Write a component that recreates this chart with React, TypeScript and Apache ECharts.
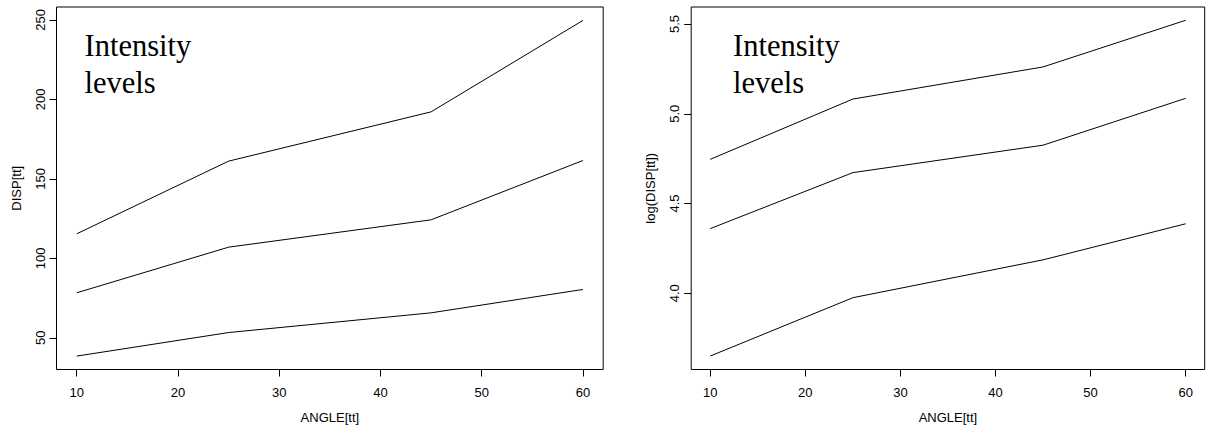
import React, { useEffect, useRef } from "react";
import * as echarts from "echarts";

const angles = [10, 25, 45, 60];
const dispHigh = [115.4, 161.1, 192.1, 249.6];
const dispMid = [78.3, 107.0, 124.2, 161.5];
const dispLow = [38.5, 53.3, 65.7, 80.4];
const logHigh = [4.746, 5.082, 5.261, 5.521];
const logMid = [4.36, 4.672, 4.825, 5.086];
const logLow = [3.65, 3.975, 4.186, 4.387];
const xTicks = [10, 20, 30, 40, 50, 60];
const dispTicks = [50, 100, 150, 200, 250];
const logTicks = [4.0, 4.5, 5.0, 5.5];
const annotation = "Intensity\nlevels";

const FONT = '"Liberation Sans", Arial, Helvetica, sans-serif';
const SERIF = '"Liberation Serif", "Times New Roman", serif';

function pairs(xs: number[], ys: number[]) {
  return xs.map((x, i) => [x, ys[i]]);
}

export default function App() {
  const ref = useRef<HTMLDivElement>(null);
  useEffect(() => {
    document.body.style.margin = "0";
    const chart = echarts.init(ref.current!, null, { renderer: "svg" });
    const label = { color: "#000", fontFamily: FONT, fontSize: 13 };
    const xAxisBase = (gridIndex: number) => ({
      type: "value",
      gridIndex,
      min: 8,
      max: 62,
      splitLine: { show: false },
      axisLine: { show: false },
      axisTick: {
        show: true,
        length: 7,
        customValues: xTicks,
        lineStyle: { color: "#000", width: 1 },
      },
      axisLabel: { ...label, margin: 16, customValues: xTicks },
      name: "ANGLE[tt]",
      nameLocation: "middle",
      nameGap: 41,
      nameTextStyle: { ...label },
    });
    const lineSeries = (xi: number, ys: number[]) => ({
      type: "line",
      xAxisIndex: xi,
      yAxisIndex: xi,
      data: pairs(angles, ys),
      symbol: "none",
      lineStyle: { color: "#000", width: 1 },
      silent: true,
    });
    chart.setOption({
      animation: false,
      backgroundColor: "#fff",
      grid: [
        {
          left: 56.5,
          top: 7,
          width: 546.7,
          height: 362.5,
          show: true,
          borderColor: "#000",
          borderWidth: 1,
          backgroundColor: "transparent",
        },
        {
          left: 691.2,
          top: 7,
          width: 513.5,
          height: 362.5,
          show: true,
          borderColor: "#000",
          borderWidth: 1,
          backgroundColor: "transparent",
        },
      ],
      xAxis: [xAxisBase(0), xAxisBase(1)],
      yAxis: [
        {
          type: "value",
          gridIndex: 0,
          min: 30.06,
          max: 258.04,
          splitLine: { show: false },
          axisLine: { show: false },
          axisTick: {
            show: true,
            length: 7,
            customValues: dispTicks,
            lineStyle: { color: "#000", width: 1 },
          },
          axisLabel: { ...label, rotate: 90, margin: 10, customValues: dispTicks },
          name: "DISP[tt]",
          nameLocation: "middle",
          nameGap: 34,
          nameTextStyle: { ...label },
        },
        {
          type: "value",
          gridIndex: 1,
          min: 3.575,
          max: 5.595,
          splitLine: { show: false },
          axisLine: { show: false },
          axisTick: {
            show: true,
            length: 7,
            customValues: logTicks,
            lineStyle: { color: "#000", width: 1 },
          },
          axisLabel: {
            ...label,
            rotate: 90,
            margin: 10,
            customValues: logTicks,
            formatter: (v: number) => v.toFixed(1),
          },
          name: "log(DISP[tt])",
          nameLocation: "middle",
          nameGap: 34,
          nameTextStyle: { ...label },
        },
      ],
      series: [
        lineSeries(0, dispHigh),
        lineSeries(0, dispMid),
        lineSeries(0, dispLow),
        lineSeries(1, logHigh),
        lineSeries(1, logMid),
        lineSeries(1, logLow),
      ],
      graphic: [
        {
          type: "text",
          x: 84.5,
          y: 28,
          style: {
            text: annotation,
            font: `30.5px ${SERIF}`,
            lineHeight: 36.6,
            fill: "#000",
            verticalAlign: "top",
          },
        },
        {
          type: "text",
          x: 733,
          y: 28,
          style: {
            text: annotation,
            font: `30.5px ${SERIF}`,
            lineHeight: 36.6,
            fill: "#000",
            verticalAlign: "top",
          },
        },
      ],
    });
    return () => chart.dispose();
  }, []);
  return <div ref={ref} style={{ width: 1206, height: 430 }} />;
}
